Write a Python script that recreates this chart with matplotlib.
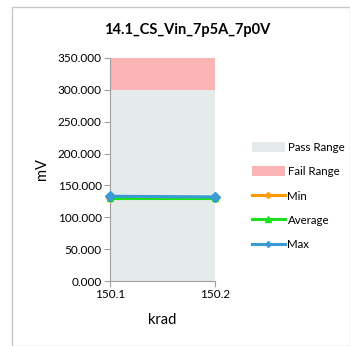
import matplotlib
matplotlib.use("Agg")
import matplotlib.pyplot as plt
from matplotlib.patches import Rectangle, Patch
from matplotlib.lines import Line2D

plt.rcParams['font.family'] = ['Lato', 'DejaVu Sans']

krad = [150.1, 150.2]
pass_range = [300.0, 300.0]
fail_range = [50.0, 50.0]
min_vals = [129.5, 129.5]
avg_vals = [130.0, 130.0]
max_vals = [133.0, 132.0]
yticks = [0, 50, 100, 150, 200, 250, 300, 350]

fig = plt.figure(figsize=(3.5, 3.46), dpi=100)
W, H = 350, 346
ax = fig.add_axes([110 / W, 1 - 281 / H, (215 - 110) / W, (281 - 58) / H])

# outer frame
fig.patches.append(Rectangle((12 / W, 0), 1 - 12 / W, 1 - 7 / H, transform=fig.transFigure,
                             fill=False, edgecolor='#c8c8c8', linewidth=1))

top = [p + f for p, f in zip(pass_range, fail_range)]
ax.fill_between(krad, 0, pass_range, color='#e5eaea', linewidth=0)
ax.fill_between(krad, pass_range, top, color='#fbb4b4', linewidth=0)
ax.plot(krad, min_vals, color='#ff9900', linewidth=2.2, marker='D', markersize=4, clip_on=False, zorder=3)
ax.plot(krad, avg_vals, color='#1ee01e', linewidth=2.2, marker='^', markersize=5, clip_on=False, zorder=4)
ax.plot(krad, max_vals, color='#3a9ad4', linewidth=2.2, marker='D', markersize=5, clip_on=False, zorder=5)

ax.set_xlim(krad[0], krad[1])
ax.set_ylim(0, 350)
ax.set_xticks(krad)
ax.set_xticklabels([f"{v:.1f}" for v in krad], fontsize=8.5)
ax.set_yticks(yticks)
ax.set_yticklabels([f"{v:.3f}" for v in yticks], fontsize=8.5)
for s in ['top', 'right']:
    ax.spines[s].set_visible(False)
for s in ['left', 'bottom']:
    ax.spines[s].set_color('#a0a0a0')
ax.tick_params(axis='both', color='#a0a0a0', length=4, pad=2)
ax.set_xlabel('krad', fontsize=10.5, labelpad=9)
ax.set_ylabel('mV', fontsize=10.5, labelpad=6)
fig.text(187 / W, 1 - 30 / H, '14.1_CS_Vin_7p5A_7p0V', fontsize=10.5, fontweight='bold',
         ha='center', va='center')

handles = [
    Patch(facecolor='#e5eaea', edgecolor='none'),
    Patch(facecolor='#fbb4b4', edgecolor='none'),
    Line2D([], [], color='#ff9900', linewidth=2.2, marker='D', markersize=3),
    Line2D([], [], color='#1ee01e', linewidth=2.2, marker='^', markersize=4),
    Line2D([], [], color='#3a9ad4', linewidth=2.2, marker='D', markersize=3),
]
labels = ['Pass Range', 'Fail Range', 'Min', 'Average', 'Max']
fig.legend(handles, labels, loc='upper left', bbox_to_anchor=(246 / W, 1 - 136 / H),
           frameon=False, fontsize=8.3, handlelength=2.9, handleheight=1.0,
           handletextpad=0.2, labelspacing=1.15, borderpad=0)

fig.savefig('out.png', dpi=100)
